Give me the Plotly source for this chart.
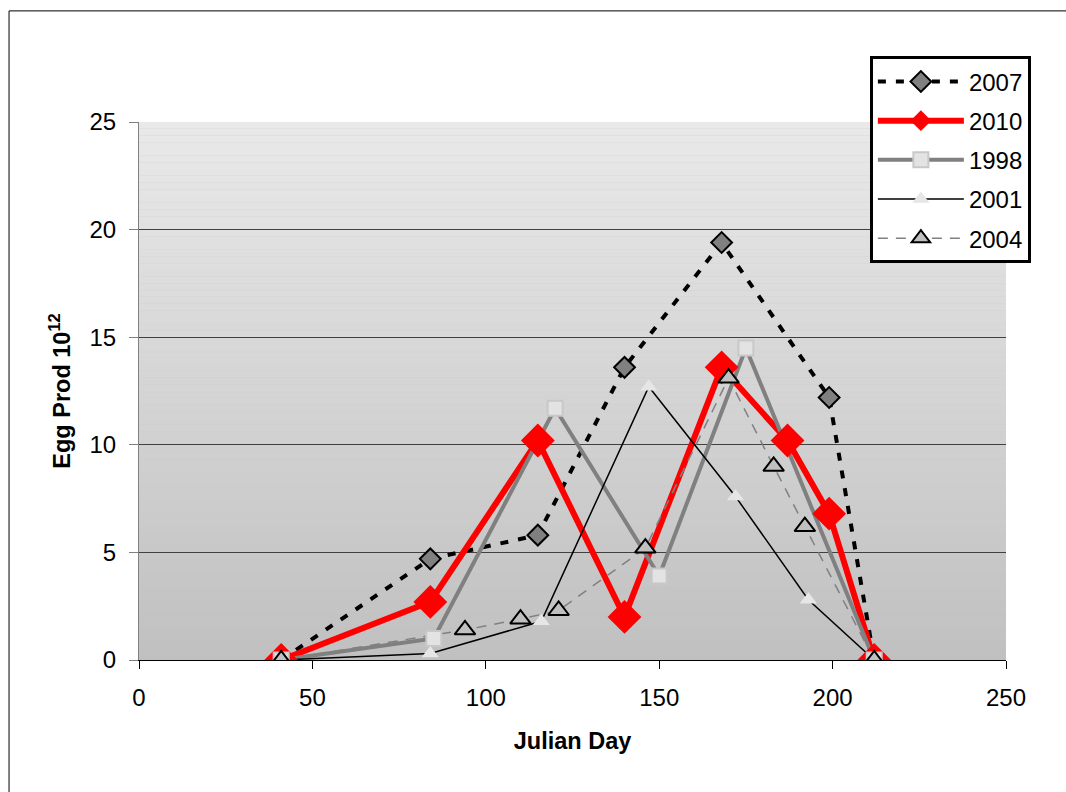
import plotly.graph_objects as go

# Egg production (10^12) by Julian day, one series per year
day_2007 = [41, 84, 115, 140, 168, 199, 212]
egg_2007 = [0, 4.7, 5.8, 13.6, 19.4, 12.2, 0]

day_2010 = [41, 84, 115, 140, 168, 187, 199, 212]
egg_2010 = [0, 2.7, 10.2, 2.0, 13.6, 10.2, 6.8, 0]

day_1998 = [41, 85, 120, 150, 175, 212]
egg_1998 = [0, 1.0, 11.7, 3.9, 14.5, 0]

day_2001 = [41, 84, 116, 147, 172, 193, 212]
egg_2001 = [0, 0.3, 1.8, 12.7, 7.6, 2.8, 0]

day_2004 = [41, 94, 110, 121, 146, 170, 183, 192, 212]
egg_2004 = [0, 1.4, 1.9, 2.3, 5.2, 13.1, 9.0, 6.2, 0]

x_ticks = [0, 50, 100, 150, 200, 250]
y_ticks = [0, 5, 10, 15, 20, 25]

FONT = "Liberation Sans, Arial, sans-serif"

# Series styles, in legend order
series = [
    dict(name="2007", x=day_2007, y=egg_2007,
         line=dict(color="black", width=4, dash="8px,10px"),
         marker=dict(symbol="diamond", size=16, color="#808080",
                     line=dict(color="black", width=2))),
    dict(name="2010", x=day_2010, y=egg_2010,
         line=dict(color="#ff0000", width=6),
         marker=dict(symbol="diamond", size=26, color="#ff0000",
                     line=dict(color="#ff0000", width=0))),
    dict(name="1998", x=day_1998, y=egg_1998,
         line=dict(color="#808080", width=4),
         marker=dict(symbol="square", size=15, color="#e3e3e3",
                     line=dict(color="#c8c8c8", width=2))),
    dict(name="2001", x=day_2001, y=egg_2001,
         line=dict(color="black", width=1.5),
         marker=dict(symbol="triangle-up", size=15, color="#e6e6e6",
                     line=dict(color="#e6e6e6", width=0))),
    dict(name="2004", x=day_2004, y=egg_2004,
         line=dict(color="#808080", width=1.5, dash="10px,8px"),
         marker=dict(symbol="triangle-up", size=18, color="#c0c0c0",
                     line=dict(color="black", width=2))),
]

fig = go.Figure()

# All connecting lines first, then all markers on top of them
for s in series:
    fig.add_trace(go.Scatter(
        x=s["x"], y=s["y"], mode="lines", line=s["line"],
        showlegend=False, hoverinfo="skip", legendgroup=s["name"],
    ))
for s in series:
    fig.add_trace(go.Scatter(
        x=s["x"], y=s["y"], mode="markers", marker=s["marker"],
        name=s["name"], showlegend=False, legendgroup=s["name"],
    ))
# Legend entries showing line and marker together
for rank, s in enumerate(series, start=1):
    fig.add_trace(go.Scatter(
        x=[None], y=[None], mode="lines+markers", name=s["name"],
        line=s["line"], marker=s["marker"], legendgroup=s["name"],
        legendrank=rank, showlegend=True,
    ))

# Vertical gray gradient behind the plot area
shapes = []
n_strips = 80
top_rgb, bottom_rgb = 233, 192
for i in range(n_strips):
    f = (i + 0.5) / n_strips
    v = round(bottom_rgb + (top_rgb - bottom_rgb) * f)
    shapes.append(dict(
        type="rect", xref="x domain", yref="y domain",
        x0=0, x1=1, y0=i / n_strips, y1=(i + 1) / n_strips,
        fillcolor=f"rgb({v},{v},{v})", line=dict(width=0), layer="below",
    ))

# Outer chart frame
shapes.append(dict(
    type="rect", xref="paper", yref="paper",
    x0=-0.1499, x1=1.2, y0=-0.4, y1=1.2065,
    line=dict(color="black", width=1), fillcolor="rgba(0,0,0,0)", layer="above",
))

fig.update_layout(
    width=1066, height=792,
    margin=dict(l=139, r=60, t=122, b=132),
    paper_bgcolor="white",
    plot_bgcolor="#c8c8c8",
    font=dict(family=FONT, size=24, color="black"),
    shapes=shapes,
    showlegend=True,
    legend=dict(
        x=0.843, y=1.122, xanchor="left", yanchor="top",
        bgcolor="white", bordercolor="black", borderwidth=3,
        font=dict(family=FONT, size=24, color="black"),
        itemwidth=86, tracegroupgap=5,
    ),
    xaxis=dict(
        range=[0, 250], tickvals=x_ticks, ticks="outside", ticklen=8,
        tickcolor="black", showgrid=False, zeroline=False,
        showline=True, linecolor="black", linewidth=1,
        ticklabelstandoff=8,
        title=dict(text="<b>Julian Day</b>", font=dict(size=23.5), standoff=22),
    ),
    yaxis=dict(
        range=[0, 25], tickvals=y_ticks, ticks="outside", ticklen=9,
        tickcolor="#808080", showgrid=True, gridcolor="#404040", gridwidth=1,
        zeroline=False, showline=True, linecolor="#808080", linewidth=1,
        ticklabelstandoff=8,
        title=dict(text="<b>Egg Prod 10<sup>12</sup></b>", font=dict(size=23.5),
                   standoff=12),
    ),
)

fig.write_html("out.html")
